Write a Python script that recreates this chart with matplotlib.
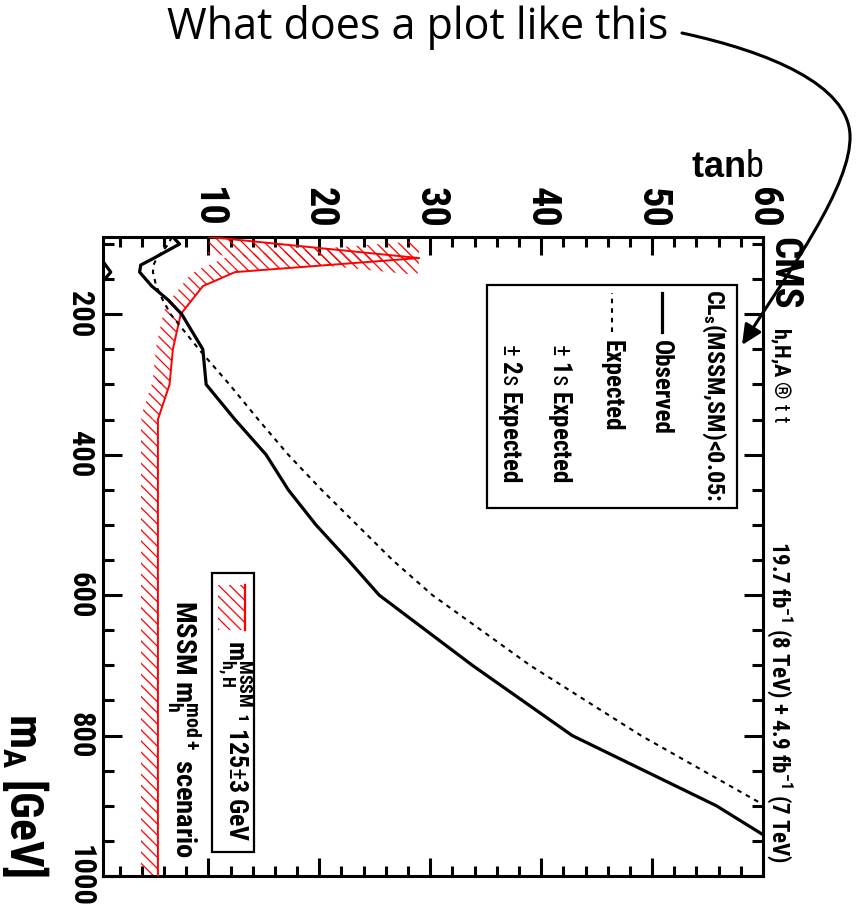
import numpy as np
import matplotlib
matplotlib.use("Agg")
import matplotlib.pyplot as plt
from matplotlib import font_manager
from matplotlib.patches import Rectangle, Polygon, FancyArrowPatch
from matplotlib.path import Path

# ---------------- data ----------------
# observed 95% CL exclusion contour (upper branch)
m_A_obs = [90, 100, 120, 130, 140, 160, 180, 200, 250, 300, 350, 400, 450,
           500, 550, 600, 700, 800, 900, 1000]
tanb_obs = [6.8, 7.4, 5.1, 3.9, 3.8, 4.9, 6.4, 7.6, 9.5, 9.8, 12.4, 15.2, 17.2,
            19.7, 22.6, 25.4, 33.8, 42.8, 55.8, 66.0]

# observed contour, small low-tanb island
m_A_obs_low = [125, 140, 153]
tanb_obs_low = [0.5, 1.2, 0.5]

# expected exclusion contour
m_A_exp = [90, 100, 120, 130, 140, 160, 180, 200, 250, 300, 350, 400, 450,
           500, 550, 600, 700, 800, 900, 1000]
tanb_exp = [6.7, 6.4, 5.35, 5.05, 5.0, 5.3, 5.9, 6.6, 9.15, 11.9, 14.5, 17.2, 20.2,
            23.4, 26.6, 30.2, 39.0, 49.0, 60.2, 71.0]

# boundary of the region where m_h,H^MSSM != 125 +- 3 GeV
m_A_mh = [90, 120, 140, 160, 200, 250, 300, 350, 400, 600, 800, 1000]
tanb_mh = [10.1, 29.0, 12.4, 9.5, 7.5, 6.8, 6.5, 5.45, 5.45, 5.45, 5.45, 5.45]

tanb_ticks = [10, 20, 30, 40, 50, 60]
m_A_ticks = [200, 400, 600, 800, 1000]

# ---------------- fonts ----------------
def has_bold(name):
    return any(f.name == name and (f.weight if isinstance(f.weight, int) else 400) >= 600
               for f in font_manager.fontManager.ttflist)


NARROW = "Liberation Sans"
for cand in ["Liberation Sans Narrow", "Arial Narrow", "Roboto Condensed",
             "PT Sans Narrow", "Archivo Narrow", "Sofia Sans Condensed"]:
    if has_bold(cand):
        NARROW = cand
        break

plt.rcParams.update({
    "font.family": [NARROW, "DejaVu Sans"],
    "font.weight": "bold",
    "mathtext.fontset": "custom",
    "mathtext.rm": NARROW + ":regular",
    "mathtext.it": NARROW + ":italic",
    "mathtext.bf": NARROW + ":bold",
    "mathtext.default": "bf",
    "hatch.linewidth": 0.9,
    "hatch.color": "red",
})

W_PX, H_PX = 858, 907
fig = plt.figure(figsize=(W_PX / 100, H_PX / 100), dpi=100)
fig.patch.set_facecolor("white")

# plot frame in figure pixels (left, right, top, bottom)
L, R, T, B = 103, 763, 237, 876
ax = fig.add_axes([L / W_PX, (H_PX - B) / H_PX, (R - L) / W_PX, (B - T) / H_PX])
ax.set_xlim(0.5, 60)
ax.set_ylim(1000, 90)   # m_A grows downwards

for sp in ax.spines.values():
    sp.set_linewidth(2.2)

# ---------------- axes / ticks ----------------
ax.set_xticks(tanb_ticks)
ax.set_xticks(np.arange(2, 60, 2), minor=True)
ax.set_yticks(m_A_ticks)
ax.set_yticks(np.arange(100, 1001, 50), minor=True)

ax.tick_params(axis="x", which="both", direction="in", top=True, bottom=True,
               labeltop=True, labelbottom=False, width=2.2, pad=6.5)
ax.tick_params(axis="x", which="major", length=13)
ax.tick_params(axis="x", which="minor", length=7)
ax.tick_params(axis="y", which="both", direction="in", left=True, right=True,
               labelleft=True, labelright=False, width=2.2, pad=5.5)
ax.tick_params(axis="y", which="major", length=14)
ax.tick_params(axis="y", which="minor", length=8)

ax.set_xticklabels([str(t) for t in tanb_ticks], rotation=-90, fontsize=29,
                   fontweight="bold", ha="center", va="bottom")
ax.set_yticklabels([str(t) for t in m_A_ticks], rotation=-90, fontsize=22,
                   fontweight="bold", ha="right", va="center")

# ---------------- curves ----------------
HATCH = "\\\\\\"
# hatched band on one side of the m_h boundary
ax.plot(tanb_mh, m_A_mh, color="red", lw=1.4, zorder=3)
band_w = 17.0   # band width in pixels
pts = ax.transData.transform(np.column_stack([tanb_mh, m_A_mh]))
inv = ax.transData.inverted()
normals = []
for p0, p1 in zip(pts[:-1], pts[1:]):
    d = p1 - p0
    n = np.array([d[1], -d[0]]) / np.hypot(d[0], d[1])
    normals.append(n)
    quad = np.array([p0, p1, p1 + n * band_w, p0 + n * band_w])
    ax.add_patch(Polygon(inv.transform(quad), closed=True, facecolor="none",
                         edgecolor="red", lw=0, hatch=HATCH, zorder=2))
for i in range(1, len(pts) - 1):
    tri = np.array([pts[i], pts[i] + normals[i - 1] * band_w, pts[i] + normals[i] * band_w])
    ax.add_patch(Polygon(inv.transform(tri), closed=True, facecolor="none",
                         edgecolor="red", lw=0, hatch=HATCH, zorder=2))

ax.plot(tanb_exp, m_A_exp, color="black", lw=1.5, linestyle=(0, (2.2, 2.4)), zorder=4)
ax.plot(tanb_obs, m_A_obs, color="black", lw=2.3, zorder=5)
ax.plot(tanb_obs_low, m_A_obs_low, color="black", lw=2.3, zorder=5)

# ---------------- legend: exclusion contours ----------------
tr = ax.transAxes
ax.add_patch(Rectangle((0.582, 0.576), 0.379, 0.349, transform=tr, fill=False,
                       lw=1.6, ec="black", zorder=6))
ax.text(0.926, 0.918, r"CL$_{\mathbf{s}}$(MSSM,SM)<0.05:", transform=tr, rotation=-90,
        ha="center", va="top", fontsize=17.5, zorder=7)
ax.plot([0.847, 0.847], [0.851, 0.912], transform=tr, color="black", lw=2.3, zorder=7)
ax.text(0.846, 0.839, "Observed", transform=tr, rotation=-90, ha="center", va="top",
        fontsize=18, zorder=7)
ax.plot([0.771, 0.771], [0.851, 0.912], transform=tr, color="black", lw=1.5,
        linestyle=(0, (2.2, 2.4)), zorder=7)
ax.text(0.771, 0.839, "Expected", transform=tr, rotation=-90, ha="center", va="top",
        fontsize=18, zorder=7)
ax.text(0.692, 0.834, r"$\mathrm{\pm}$ 1$\mathrm{s}$ Expected", transform=tr, rotation=-90,
        ha="center", va="top", fontsize=18, zorder=7)
ax.text(0.617, 0.834, r"$\mathrm{\pm}$ 2$\mathrm{s}$ Expected", transform=tr, rotation=-90,
        ha="center", va="top", fontsize=18, zorder=7)

# ---------------- legend: m_h band ----------------
ax.add_patch(Rectangle((0.165, 0.038), 0.064, 0.436, transform=tr, fill=False,
                       lw=1.6, ec="black", zorder=6))
ax.add_patch(Rectangle((0.174, 0.385), 0.041, 0.070, transform=tr, facecolor="none",
                       edgecolor="red", lw=0, hatch=HATCH, zorder=7))
ax.plot([0.215, 0.215], [0.385, 0.455], transform=tr, color="red", lw=1.6, zorder=7)
ax.text(0.200, 0.369, r"m$_{\mathbf{h,H}}^{\mathbf{MSSM}}$ ¹ 125$\mathrm{\pm}$3 GeV",
        transform=tr, rotation=-90, ha="center", va="top", fontsize=18.5, zorder=7)
ax.text(0.123, 0.432, r"MSSM m$_{\mathbf{h}}^{\mathbf{mod+}}$ scenario", transform=tr,
        rotation=-90, ha="center", va="top", fontsize=20.5, zorder=7)

# ---------------- labels around the frame ----------------
ax.text(1.032, 1.0, "CMS", transform=tr, rotation=-90, ha="center", va="top",
        fontsize=28, clip_on=False)
ax.text(1.026, 0.859, r"h,H,A $\mathrm{®\ t\ t}$", transform=tr, rotation=-90,
        ha="center", va="top", fontsize=16, clip_on=False)
ax.text(1.026, 0.02, r"19.7 fb$^{-1}$ (8 TeV) + 4.9 fb$^{-1}$ (7 TeV)", transform=tr,
        rotation=-90, ha="center", va="bottom", fontsize=16.5, clip_on=False)
ax.text(-0.117, -0.003, r"m$_{\mathbf{A}}$ [GeV]", transform=tr, rotation=-90,
        ha="center", va="bottom", fontsize=33, clip_on=False)
ax.text(1.0, 1.094, r"tan$\mathrm{b}$", transform=tr, ha="right", va="baseline",
        fontsize=26, family=["Liberation Sans", "DejaVu Sans"], clip_on=False)

# ---------------- annotation ----------------
fig.text(668 / W_PX, 1 - 27 / H_PX, "What does a plot like this", ha="right", va="center",
         fontsize=31, fontweight="normal", family=["Open Sans", "DejaVu Sans"])


def fig_px(x, y):
    return (x / W_PX, 1 - y / H_PX)


verts = [fig_px(682, 33), fig_px(770, 52), fig_px(848, 85), fig_px(850, 135),
         fig_px(852, 185), fig_px(790, 270), fig_px(742, 345)]
codes = [Path.MOVETO] + [Path.CURVE4] * 6
arrow = FancyArrowPatch(path=Path(verts, codes), arrowstyle="-|>,head_length=0.55,head_width=0.26",
                        mutation_scale=22, lw=2.2, color="black", transform=fig.transFigure)
fig.add_artist(arrow)

fig.savefig("out.png", dpi=100, facecolor="white")
